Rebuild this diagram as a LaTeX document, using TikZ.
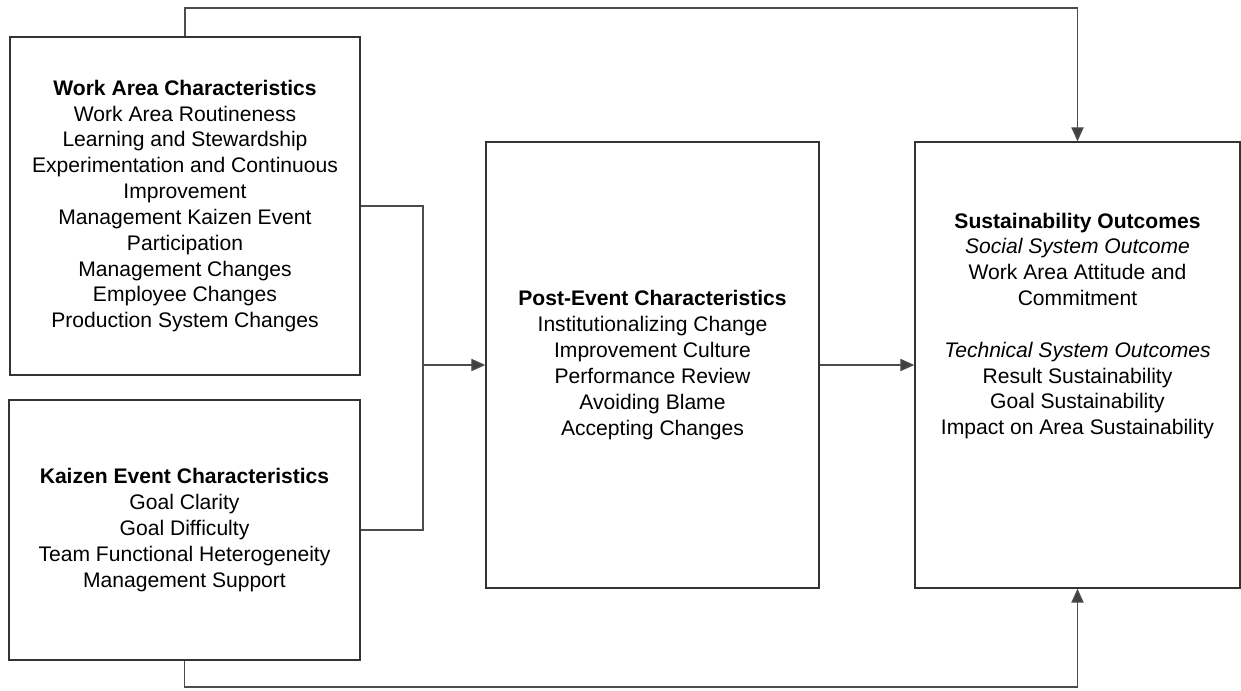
\documentclass[tikz,border=0pt]{standalone}
\usepackage{fontspec}
\setmainfont{Liberation Sans}
\usetikzlibrary{arrows.meta}

\begin{document}
\begin{tikzpicture}[x=0.02cm, y=-0.02cm,
    every node/.style={font=\fontsize{12}{14.7}\selectfont},
    panel/.style={draw=black!80, line width=0.8pt, align=center, inner sep=0pt},
    link/.style={draw=black!70, line width=0.8pt},
    flow/.style={link, -{Triangle[length=8pt,width=7pt,fill=black!75]}}]
    \useasboundingbox (0,0) rectangle (1241,690);

    \node[panel, minimum width=7cm, minimum height=6.76cm] (wa) at (185,206)
        {\textbf{Work Area Characteristics}\\ Work Area Routineness\\ Learning and Stewardship\\
         Experimentation and Continuous\\ Improvement\\ Management Kaizen Event\\ Participation\\
         Management Changes\\ Employee Changes\\ Production System Changes};
    \node[panel, minimum width=7.02cm, minimum height=5.2cm] (ke) at (184.5,530)
        {\textbf{Kaizen Event Characteristics}\\ Goal Clarity\\ Goal Difficulty\\
         Team Functional Heterogeneity\\ Management Support};
    \node[panel, minimum width=6.66cm, minimum height=8.92cm] (pe) at (652.5,365)
        {\textbf{Post-Event Characteristics}\\ Institutionalizing Change\\ Improvement Culture\\
         Performance Review\\ Avoiding Blame\\ Accepting Changes};
    \node[panel, minimum width=6.5cm, minimum height=8.92cm] (so) at (1077.5,365) {};
    \node[align=center, inner sep=0pt, anchor=north] (sotext) at ([yshift=-40.5pt]so.north)
        {\textbf{Sustainability Outcomes}\\ \textit{Social System Outcome}\\ Work Area Attitude and\\
         Commitment\\[14.7pt] \textit{Technical System Outcomes}\\ Result Sustainability\\
         Goal Sustainability\\ Impact on Area Sustainability};

    % inputs join before the post-event box
    \coordinate (jn) at (423,365);
    \draw[link] (wa.east) -| (jn);
    \draw[link] (ke.east) -| (jn);
    \draw[flow] (jn) -- (pe.west);
    \draw[flow] (pe.east) -- (so.west);

    % direct paths round the outside
    \coordinate (top) at (600,8);
    \coordinate (bot) at (600,687);
    \draw[flow] (wa.north) |- (top) -| (so.north);
    \draw[flow] (ke.south) |- (bot) -| (so.south);
\end{tikzpicture}
\end{document}
